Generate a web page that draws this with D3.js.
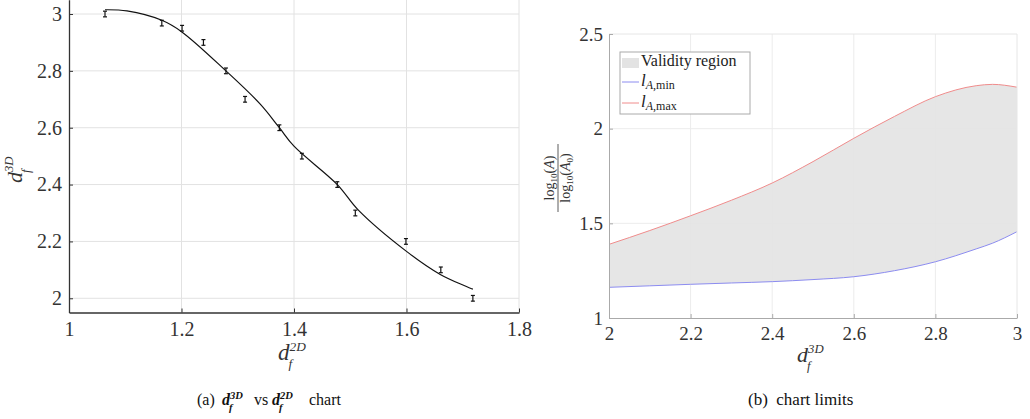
<!DOCTYPE html>
<html>
<head>
<meta charset="utf-8">
<script src="https://cdn.jsdelivr.net/npm/d3@7"></script>
<style>
  html, body { margin: 0; padding: 0; background: #fff; }
  svg { display: block; }
  svg text { font-family: "Liberation Serif", "Times New Roman", Tinos; }
</style>
</head>
<body>
<div id="chart"></div>
<script>
// (a) measured points with error bars
const d2D = [1.064, 1.165, 1.201, 1.239, 1.279, 1.313, 1.374, 1.414, 1.477, 1.509, 1.599, 1.661, 1.718];
const d3D = [3.00, 2.968, 2.95, 2.90, 2.80, 2.70, 2.60, 2.50, 2.40, 2.30, 2.20, 2.10, 2.00];
const err = [0.01, 0.01, 0.01, 0.01, 0.01, 0.01, 0.01, 0.01, 0.01, 0.01, 0.01, 0.01, 0.01];
// (a) fitted curve
const fitX = [1.064, 1.103, 1.165, 1.2, 1.279, 1.34, 1.374, 1.4, 1.477, 1.514, 1.6, 1.66, 1.718];
const fitY = [3.015, 3.011, 2.978, 2.938, 2.80, 2.683, 2.60, 2.535, 2.40, 2.311, 2.165, 2.084, 2.032];
const ticksA_x = [1, 1.2, 1.4, 1.6, 1.8];
const ticksA_y = [2, 2.2, 2.4, 2.6, 2.8, 3];

// (b) chart limits
const limX = [2.0, 2.1, 2.2, 2.3, 2.4, 2.5, 2.6, 2.7, 2.8, 2.9, 2.94, 3.0];
const lMax = [1.389, 1.462, 1.540, 1.622, 1.713, 1.826, 1.949, 2.065, 2.169, 2.227, 2.234, 2.219];
const lMin = [1.162, 1.170, 1.178, 1.185, 1.192, 1.203, 1.218, 1.25, 1.297, 1.365, 1.395, 1.456];
const ticksB_x = [2, 2.2, 2.4, 2.6, 2.8, 3];
const ticksB_y = [1, 1.5, 2, 2.5];

const W = 1030, H = 419;
const svg = d3.select('#chart').append('svg')
  .attr('width', W).attr('height', H)
  .attr('viewBox', [0, 0, W, H]);

// main glyph with stacked super/subscript
function scriptLabel(g, main, sup, sub, size, opts) {
  opts = opts || {};
  const fill = opts.fill || '#222';
  const wt = opts.bold ? 'bold' : 'normal';
  const r = opts.ratio || 0.58;
  const w = opts.xoff != null ? opts.xoff : size * 0.5;
  g.append('text').attr('font-size', size).style('font-style', 'italic').style('font-weight', wt)
    .attr('fill', fill).text(main);
  g.append('text').attr('x', w).attr('y', -size * 0.4)
    .attr('font-size', size * r).style('font-style', 'italic').style('font-weight', wt)
    .attr('fill', fill).text(sup);
  g.append('text').attr('x', w - 1).attr('y', size * 0.36)
    .attr('font-size', size * r).style('font-style', 'italic').style('font-weight', wt)
    .attr('fill', fill).text(sub);
}

// ---------- chart (a) ----------
const xA = d3.scaleLinear().domain([1, 1.8]).range([69, 519]);
const yA = d3.scaleLinear().domain([1.95, 3.05]).range([312.5, -0.2]);
const gA = svg.append('g');

gA.append('g').selectAll('line').data(ticksA_y).join('line')
  .attr('x1', xA(1)).attr('x2', xA(1.8))
  .attr('y1', d => yA(d)).attr('y2', d => yA(d))
  .attr('stroke', '#e2e2e2').attr('stroke-width', 1);
gA.append('g').selectAll('line').data(ticksA_x.slice(1)).join('line')
  .attr('x1', d => xA(d)).attr('x2', d => xA(d))
  .attr('y1', yA(1.95)).attr('y2', 0)
  .attr('stroke', '#e2e2e2').attr('stroke-width', 1);

const axA_x = gA.append('g').attr('transform', `translate(0,${yA(1.95)})`)
  .call(d3.axisBottom(xA).tickValues(ticksA_x).tickSizeInner(-4).tickSizeOuter(0).tickPadding(9)
    .tickFormat(d3.format('')));
const axA_y = gA.append('g').attr('transform', `translate(${xA(1)},0)`)
  .call(d3.axisLeft(yA).tickValues(ticksA_y).tickSizeInner(-4).tickSizeOuter(0).tickPadding(7)
    .tickFormat(d3.format('')));
[axA_x, axA_y].forEach(a => {
  a.attr('font-family', null);
  a.select('.domain').attr('stroke', '#333').attr('stroke-width', 1.3);
  a.selectAll('.tick line').attr('stroke', '#333');
  a.selectAll('text').attr('font-size', 20).attr('fill', '#333');
});

const lineA = d3.line().x(d => xA(d[0])).y(d => yA(d[1])).curve(d3.curveCatmullRom.alpha(0.5));
gA.append('path').datum(fitX.map((x, i) => [x, fitY[i]]))
  .attr('d', lineA).attr('fill', 'none').attr('stroke', '#111').attr('stroke-width', 1.2);

const eb = gA.append('g').selectAll('g').data(d2D.map((x, i) => ({ x, y: d3D[i], e: err[i] }))).join('g')
  .attr('stroke', '#111').attr('stroke-width', 1.2);
eb.append('line').attr('x1', d => xA(d.x)).attr('x2', d => xA(d.x))
  .attr('y1', d => yA(d.y - d.e)).attr('y2', d => yA(d.y + d.e));
eb.append('line').attr('x1', d => xA(d.x) - 2).attr('x2', d => xA(d.x) + 2)
  .attr('y1', d => yA(d.y - d.e)).attr('y2', d => yA(d.y - d.e));
eb.append('line').attr('x1', d => xA(d.x) - 2).attr('x2', d => xA(d.x) + 2)
  .attr('y1', d => yA(d.y + d.e)).attr('y2', d => yA(d.y + d.e));

scriptLabel(gA.append('g').attr('transform', 'translate(278,360)'), 'd', '2D', 'f', 23, { fill: '#333' });
scriptLabel(gA.append('g').attr('transform', 'translate(22,183) rotate(-90)'), 'd', '3D', 'f', 22, { fill: '#333' });

// caption (a)
const capA = gA.append('g');
capA.append('text').attr('x', 197).attr('y', 405).attr('font-size', 16).attr('fill', '#111').text('(a)');
scriptLabel(capA.append('g').attr('transform', 'translate(222,405)'), 'd', '3D', 'f', 16, { bold: true, fill: '#111', xoff: 8, ratio: 0.66 });
capA.append('text').attr('x', 254).attr('y', 405).attr('font-size', 16).attr('fill', '#111').text('vs');
scriptLabel(capA.append('g').attr('transform', 'translate(272,405)'), 'd', '2D', 'f', 16, { bold: true, fill: '#111', xoff: 8, ratio: 0.66 });
capA.append('text').attr('x', 309).attr('y', 405).attr('font-size', 16).attr('fill', '#111').text('chart');

// ---------- chart (b) ----------
const xB = d3.scaleLinear().domain([2, 3]).range([609, 1017]);
const yB = d3.scaleLinear().domain([1, 2.5]).range([318, 34]);
const gB = svg.append('g');

gB.append('g').selectAll('line').data(ticksB_x.slice(1, -1)).join('line')
  .attr('x1', d => xB(d)).attr('x2', d => xB(d)).attr('y1', yB(1)).attr('y2', yB(2.5))
  .attr('stroke', '#ececec');
gB.append('g').selectAll('line').data(ticksB_y.slice(1, -1)).join('line')
  .attr('x1', xB(2)).attr('x2', xB(3)).attr('y1', d => yB(d)).attr('y2', d => yB(d))
  .attr('stroke', '#ececec');

const pts = limX.map((x, i) => ({ x, lo: lMin[i], hi: lMax[i] }));
gB.append('path').datum(pts)
  .attr('d', d3.area().x(d => xB(d.x)).y0(d => yB(d.lo)).y1(d => yB(d.hi)).curve(d3.curveMonotoneX))
  .attr('fill', '#e3e3e3').attr('fill-opacity', 0.9);
gB.append('path').datum(pts)
  .attr('d', d3.line().x(d => xB(d.x)).y(d => yB(d.hi)).curve(d3.curveMonotoneX))
  .attr('fill', 'none').attr('stroke', '#f08c8c').attr('stroke-width', 1);
gB.append('path').datum(pts)
  .attr('d', d3.line().x(d => xB(d.x)).y(d => yB(d.lo)).curve(d3.curveMonotoneX))
  .attr('fill', 'none').attr('stroke', '#8c8cf0').attr('stroke-width', 1);

// box top/right
gB.append('path').attr('d', `M${xB(2)},${yB(2.5)}H${xB(3)}V${yB(1)}`)
  .attr('fill', 'none').attr('stroke', '#e6e6e6');

const axB_x = gB.append('g').attr('transform', `translate(0,${yB(1)})`)
  .call(d3.axisBottom(xB).tickValues(ticksB_x).tickSizeInner(-4).tickSizeOuter(0).tickPadding(9)
    .tickFormat(d3.format('')));
const axB_y = gB.append('g').attr('transform', `translate(${xB(2)},0)`)
  .call(d3.axisLeft(yB).tickValues(ticksB_y).tickSizeInner(-4).tickSizeOuter(0).tickPadding(6)
    .tickFormat(d3.format('')));
[axB_x, axB_y].forEach(a => {
  a.attr('font-family', null);
  a.select('.domain').attr('stroke', '#aaa');
  a.selectAll('.tick line').attr('stroke', '#aaa');
  a.selectAll('text').attr('font-size', 19).attr('fill', '#333');
});

scriptLabel(gB.append('g').attr('transform', 'translate(797,362)'), 'd', '3D', 'f', 22, { fill: '#333' });

// y label: log10(A) / log10(A0), rotated
const yl = gB.append('g').attr('transform', 'translate(558,178) rotate(-90)').attr('fill', '#333');
function logText(sel, zero) {
  sel.append('tspan').text('log');
  sel.append('tspan').attr('font-size', 9).attr('dy', 3).text('10');
  sel.append('tspan').attr('dy', -3).text('(');
  sel.append('tspan').style('font-style', 'italic').text('A');
  if (zero) sel.append('tspan').attr('font-size', 9).attr('dy', 3).text('0');
  sel.append('tspan').attr('dy', zero ? -3 : 0).text(')');
}
logText(yl.append('text').attr('text-anchor', 'middle').attr('y', -4).attr('font-size', 14), false);
yl.append('line').attr('x1', -34).attr('x2', 34).attr('y1', 0).attr('y2', 0).attr('stroke', '#333').attr('stroke-width', 0.8);
logText(yl.append('text').attr('text-anchor', 'middle').attr('y', 12).attr('font-size', 14), true);

// legend
const lg = gB.append('g').attr('transform', 'translate(620,52)');
lg.append('rect').attr('width', 130).attr('height', 62).attr('fill', '#fff').attr('stroke', '#aaa');
lg.append('rect').attr('x', 2).attr('y', 6).attr('width', 17).attr('height', 10).attr('fill', '#e3e3e3');
lg.append('text').attr('x', 21).attr('y', 14).attr('font-size', 16).attr('fill', '#222').text('Validity region');
const legItems = [{ sub: 'A', rest: ',min', c: '#8c8cf0', y: 30 }, { sub: 'A', rest: ',max', c: '#f08c8c', y: 51 }];
legItems.forEach(it => {
  lg.append('line').attr('x1', 2).attr('x2', 19).attr('y1', it.y).attr('y2', it.y).attr('stroke', it.c);
  const t = lg.append('text').attr('x', 21).attr('y', it.y + 4).attr('font-size', 17).attr('fill', '#222');
  t.append('tspan').style('font-style', 'italic').text('l');
  t.append('tspan').attr('font-size', 12).attr('dy', 3).style('font-style', 'italic').text(it.sub);
  t.append('tspan').attr('font-size', 12).text(it.rest);
});

// caption (b)
gB.append('text').attr('x', 748).attr('y', 405).attr('font-size', 17).attr('fill', '#111')
  .attr('xml:space', 'preserve').text('(b)  chart limits');
</script>
</body>
</html>
